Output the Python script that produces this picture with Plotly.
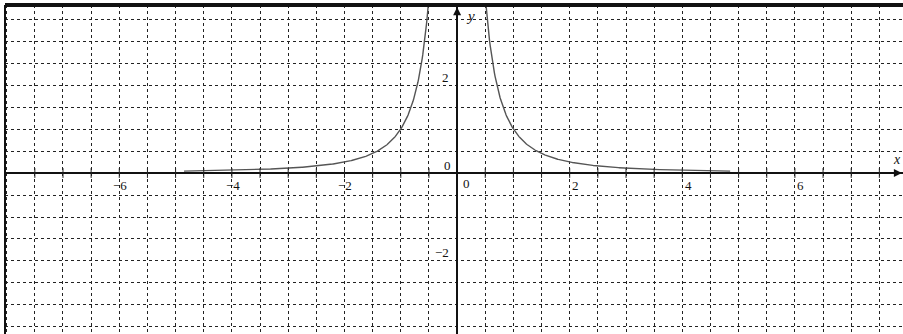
import numpy as np
import plotly.graph_objects as go

# Graph of f(x) = 1 / x^2 on a dashed coordinate grid
x_min, x_max = -8.03, 7.92
y_min, y_max = -3.66, 3.82
branch_limits = [(-4.85, -0.5), (0.5, 4.85)]   # plotted part of each branch

x_tick_vals = [-6, -4, -2, 2, 4, 6]
x_tick_text = ["\u22126", "\u22124", "\u22122", "2", "4", "6"]
y_tick_vals = [2, -2]
y_tick_text = ["2", "\u22122"]
axis_marks = [k * 0.5 for k in range(-15, 16) if k != 0]

font_family = "Liberation Serif"
label_color = "#111"
curve_color = "#555555"
grid_color = "#222222"

fig = go.Figure()

for a, b in branch_limits:
    xs = np.linspace(a, b, 400)
    fig.add_trace(go.Scatter(
        x=xs, y=1.0 / xs ** 2, mode="lines",
        line=dict(color=curve_color, width=1.4),
        hoverinfo="skip", showlegend=False,
    ))

# small tick marks across the x axis
fig.add_trace(go.Scatter(
    x=axis_marks, y=[0] * len(axis_marks), mode="markers",
    marker=dict(symbol="line-ns", size=7, line=dict(color="#222", width=1)),
    hoverinfo="skip", showlegend=False,
))

axis_common = dict(
    dtick=0.5, tick0=0, showgrid=True, gridcolor=grid_color, gridwidth=1,
    griddash="3px,3px", zeroline=True, zerolinecolor="#111", zerolinewidth=1.6,
    showticklabels=False, ticks="", showline=False, fixedrange=True,
)

label_font = dict(family=font_family, size=13, color=label_color)

annotations = []
for v, t in zip(x_tick_vals, x_tick_text):
    annotations.append(dict(
        x=v, y=0, text=t, showarrow=False, xanchor="center", yanchor="middle",
        xshift=1 if v < 0 else 6, yshift=-12, font=label_font,
    ))
for v, t in zip(y_tick_vals, y_tick_text):
    annotations.append(dict(
        x=0, y=v, text=t, showarrow=False, xanchor="right", yanchor="middle",
        xshift=-6, yshift=8, font=label_font,
    ))
# origin labels
annotations.append(dict(x=0, y=0, text="0", showarrow=False, xanchor="center",
                        yanchor="middle", xshift=9, yshift=-10, font=label_font))
annotations.append(dict(x=0, y=0, text="0", showarrow=False, xanchor="center",
                        yanchor="middle", xshift=-10, yshift=8, font=label_font))
# axis names
annotations.append(dict(x=0, y=y_max, text="<i>y</i>", showarrow=False,
                        xanchor="center", yanchor="middle", xshift=13, yshift=-11,
                        font=dict(family=font_family, size=15, color=label_color)))
annotations.append(dict(x=x_max, y=0, text="<i>x</i>", showarrow=False,
                        xanchor="right", yanchor="middle", xshift=0, yshift=14,
                        font=dict(family=font_family, size=14, color=label_color)))
# axis arrowheads
annotations.append(dict(x=0, y=y_max - 0.05, ax=0, ay=14, axref="pixel", ayref="pixel",
                        showarrow=True, arrowhead=2, arrowsize=1, arrowwidth=1.6,
                        arrowcolor="#111", text=""))
annotations.append(dict(x=x_max - 0.02, y=0, ax=-14, ay=0, axref="pixel", ayref="pixel",
                        showarrow=True, arrowhead=2, arrowsize=1, arrowwidth=1.6,
                        arrowcolor="#111", text=""))

fig.update_layout(
    width=903, height=334,
    margin=dict(l=5, r=0, t=5, b=0),
    paper_bgcolor="white", plot_bgcolor="white",
    xaxis=dict(range=[x_min, x_max], **axis_common),
    yaxis=dict(range=[y_min, y_max], **axis_common),
    annotations=annotations,
    shapes=[
        dict(type="line", xref="paper", yref="paper", x0=0, x1=1, y0=1, y1=1,
             line=dict(color="#111", width=4)),
        dict(type="line", xref="paper", yref="paper", x0=0, x1=0, y0=0, y1=1,
             line=dict(color="#111", width=2)),
    ],
    showlegend=False,
)

fig.write_html("out.html")
